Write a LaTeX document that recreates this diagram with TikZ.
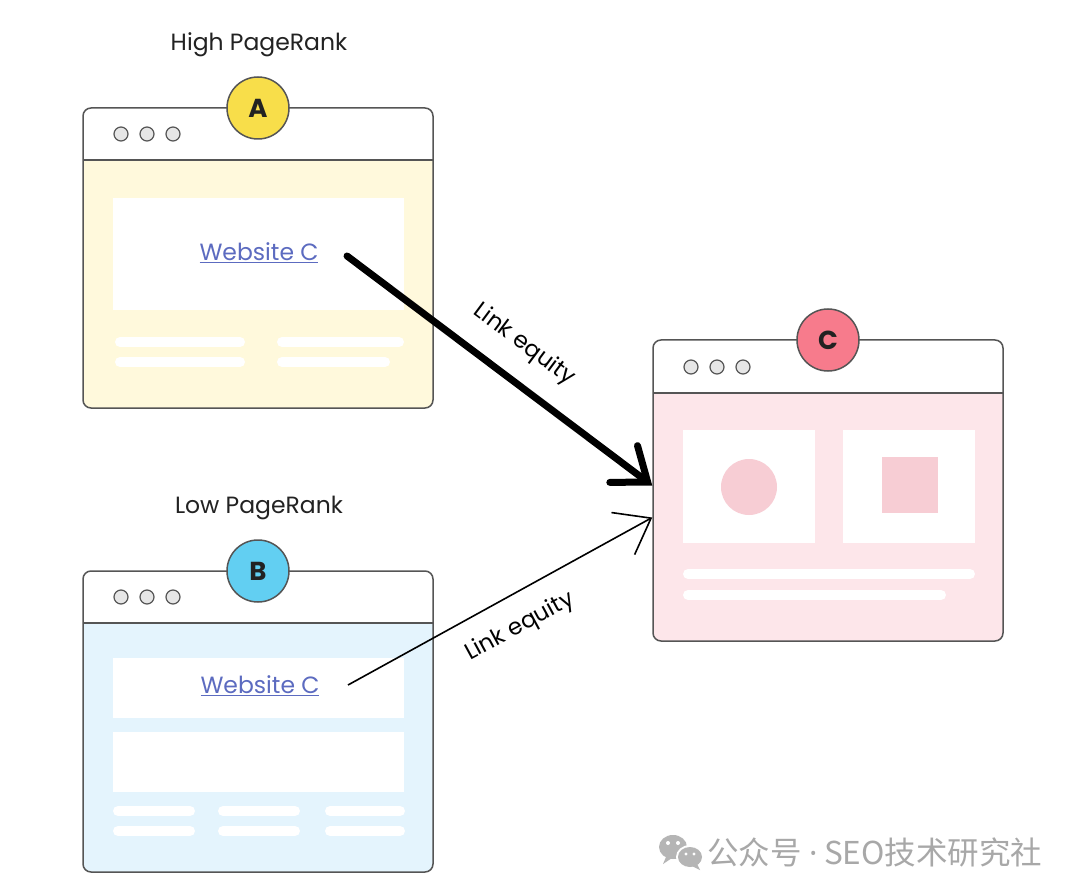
\documentclass[tikz,border=0pt]{standalone}
\usepackage{fontspec}
\setmainfont{Poppins}
\newfontfamily\cjk{Noto Sans CJK SC}
\newfontfamily\dotfont{Noto Sans}
\usetikzlibrary{arrows.meta}
\definecolor{frame}{HTML}{555555}
\definecolor{bodyA}{HTML}{FFF9DC}
\definecolor{bodyB}{HTML}{E4F4FD}
\definecolor{bodyC}{HTML}{FDE6EA}
\definecolor{badgeA}{HTML}{F8DE4A}
\definecolor{badgeB}{HTML}{62CFF2}
\definecolor{badgeC}{HTML}{F77B8C}
\definecolor{shapeC}{HTML}{F7CDD4}
\definecolor{linkblue}{HTML}{5C6BC0}
\definecolor{dotgray}{HTML}{E6E6E6}
\definecolor{txt}{HTML}{222222}
\definecolor{wm}{HTML}{A8A8A8}
\tikzset{
  winframe/.style={draw=frame, line width=1.5pt, rounded corners=8pt, minimum width=350pt, inner sep=0pt},
  sepline/.style={draw=frame, line width=1.5pt},
  wdot/.style={circle, draw=frame, fill=dotgray, line width=1.2pt, minimum size=14pt, inner sep=0pt},
  badge/.style={circle, draw=frame, line width=1.5pt, minimum size=62pt, inner sep=0pt, font=\bfseries\fontsize{26}{26}\selectfont, text=txt},
  barline/.style={white, line width=10pt, line cap=round},
  heading/.style={font=\fontsize{23.5}{23.5}\selectfont, text=txt},
  linktext/.style={font=\fontsize{23.5}{23.5}\selectfont, text=linkblue},
  eqlabel/.style={font=\fontsize{23}{23}\selectfont, text=black},
  strongarrow/.style={draw=black, line width=7pt, line cap=round, -{Straight Barb[length=30pt, width=46pt, line cap=round]}},
  weakarrow/.style={draw=black, line width=1.6pt, -{Straight Barb[length=32pt, width=48pt]}},
}
\begin{document}
\begin{tikzpicture}[x=1pt, y=-1pt]
\useasboundingbox (0,0) rectangle (1080,896);
\fill[white] (0,0) rectangle (1080,896);

% ---------- Window A ----------
\fill[bodyA, rounded corners=8pt] (83,108) rectangle (433,408);
\fill[white] (83,160) [rounded corners=8pt]-- (83,108) -- (433,108) [sharp corners]-- (433,160) -- cycle;
\fill[white] (113,198) rectangle (404,310);
\draw[barline] (120,342) -- (240,342);
\draw[barline] (120,362) -- (240,362);
\draw[barline] (282,342) -- (399,342);
\draw[barline] (282,362) -- (385,362);
\node[winframe, minimum height=300pt] (winA) at (258,258) {};
\draw[sepline] (83,160) -- (433,160);
\node[wdot] (a1) at (121,134) {};
\node[wdot] (a2) at (147,134) {};
\node[wdot] (a3) at (173,134) {};
\node[badge, fill=badgeA] (bA) at (258,108) {A};
\node[heading] (hA) at (259,45) {High PageRank};
\node[linktext] (linkA) at (259,253) {\underline{Website C}};

% ---------- Window B ----------
\fill[bodyB, rounded corners=8pt] (83,571) rectangle (433,872);
\fill[white] (83,623) [rounded corners=8pt]-- (83,571) -- (433,571) [sharp corners]-- (433,623) -- cycle;
\fill[white] (113,658) rectangle (404,718);
\fill[white] (113,732) rectangle (404,792);
\draw[barline] (118,811) -- (190,811);
\draw[barline] (118,831) -- (190,831);
\draw[barline] (223,811) -- (295,811);
\draw[barline] (223,831) -- (295,831);
\draw[barline] (330,811) -- (400,811);
\draw[barline] (330,831) -- (400,831);
\node[winframe, minimum height=301pt] (winB) at (258,721.5) {};
\draw[sepline] (83,623) -- (433,623);
\node[wdot] (b1) at (121,597) {};
\node[wdot] (b2) at (147,597) {};
\node[wdot] (b3) at (173,597) {};
\node[badge, fill=badgeB] (bB) at (258,571) {B};
\node[heading] (hB) at (259,508) {Low PageRank};
\node[linktext] (linkB) at (260,686) {\underline{Website C}};

% ---------- Window C ----------
\fill[bodyC, rounded corners=8pt] (653,340) rectangle (1003,641);
\fill[white] (653,393) [rounded corners=8pt]-- (653,340) -- (1003,340) [sharp corners]-- (1003,393) -- cycle;
\fill[white] (683,430) rectangle (815,543);
\fill[white] (843,430) rectangle (975,543);
\fill[shapeC] (749,487) circle (28);
\fill[shapeC] (882,457) rectangle (938,513);
\draw[barline] (688,574) -- (970,574);
\draw[barline] (688,595) -- (941,595);
\node[winframe, minimum height=301pt] (winC) at (828,490.5) {};
\draw[sepline] (653,393) -- (1003,393);
\node[wdot] (c1) at (691,367) {};
\node[wdot] (c2) at (717,367) {};
\node[wdot] (c3) at (743,367) {};
\node[badge, fill=badgeC] (bC) at (828,340) {C};

% ---------- Arrows ----------
\coordinate (sA) at ([xshift=25pt,yshift=-3pt]linkA.east);
\coordinate (sB) at ([xshift=25pt,yshift=1pt]linkB.east);
\draw[strongarrow] (sA) -- ([yshift=5pt]winC.west);
\draw[weakarrow] (sB) -- ([yshift=-27pt]winC.west);
\node[eqlabel, rotate=-36.7] (eqA) at (524,345) {Link equity};
\node[eqlabel, rotate=28.5] (eqB) at (520,627) {Link equity};

% ---------- Watermark ----------
\begin{scope}
\fill[wm!85] (673,847) ellipse (14 and 12);
\fill[wm!85] (666,857) -- (663,864) -- (672,858) -- cycle;
\fill[white] (690,857) ellipse (14 and 12);
\fill[wm!85] (690,857) ellipse (12 and 10);
\fill[wm!85] (697,864) -- (700,870) -- (692,866) -- cycle;
\fill[white] (668,843) circle (2);
\fill[white] (678,843) circle (2);
\fill[white] (686,854) circle (1.7);
\fill[white] (694,854) circle (1.7);
\end{scope}
\node[anchor=west, inner sep=0pt, text=wm, font=\cjk\fontsize{31.5}{31.5}\selectfont] (wmtext) at (707,852) {公众号\hspace{8pt}{\dotfont·}\hspace{6pt}SEO技术研究社};
\end{tikzpicture}
\end{document}
